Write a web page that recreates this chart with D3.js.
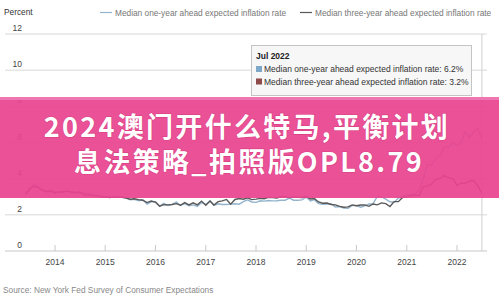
<!DOCTYPE html>
<html><head><meta charset="utf-8">
<script src="https://cdn.jsdelivr.net/npm/d3@7"></script>
<style>
html,body{margin:0;padding:0;background:#fff;}
svg{display:block;font-family:"Liberation Sans",Arial,sans-serif;}
</style></head><body>
<svg id="c" width="499" height="296"></svg>
<script>
const startMonth = "2013-06";
const oneYear = [3.09,3.37,3.69,3.56,3.39,3.29,3.36,
 3.26,3.23,3.28,3.31,3.22,3.20,3.25,3.19,3.17,3.14,3.07,3.00,
 3.00,2.99,2.97,3.03,2.98,2.95,2.83,2.86,2.78,2.83,2.59,2.72,
 2.73,2.47,2.63,2.51,2.58,2.70,2.52,2.62,2.50,2.55,2.47,2.68,
 2.57,2.77,2.52,2.61,2.57,2.57,2.59,2.61,2.59,2.73,2.83,2.71,
 2.69,2.78,2.76,2.79,2.77,2.78,2.81,2.81,2.93,2.81,2.81,2.83,
 2.98,2.77,2.84,2.62,2.58,2.59,2.61,2.43,2.46,2.38,2.36,2.52,
 2.51,2.42,2.50,2.60,2.62,3.02,3.00,2.87,2.72,2.70,2.93,3.02,
 3.11,3.13,3.15,3.36,3.98,4.80,4.76,5.16,5.31,5.74,5.74,5.96,
 5.84,6.00,6.58,6.30,6.58,6.78,6.20];
const threeYear = [3.14,3.46,3.58,3.50,3.35,3.28,3.30,
 3.21,3.28,3.26,3.31,3.26,3.24,3.27,3.11,3.10,3.06,3.06,3.00,
 3.00,2.96,2.99,2.99,2.97,2.93,2.86,2.89,2.84,2.81,2.68,2.76,
 2.70,2.48,2.56,2.55,2.57,2.62,2.53,2.68,2.55,2.66,2.55,2.76,
 2.53,2.77,2.54,2.73,2.77,2.85,2.59,2.85,2.90,2.86,2.94,2.84,
 2.87,2.91,2.89,2.97,2.95,2.93,3.00,3.00,2.95,2.99,2.97,2.96,
 3.02,2.88,2.90,2.71,2.64,2.65,2.57,2.55,2.47,2.42,2.44,2.55,
 2.50,2.54,2.55,2.47,2.60,2.55,2.66,2.62,2.46,2.73,2.73,2.96,
 3.00,3.06,3.09,3.07,3.56,3.59,3.71,3.97,4.00,4.19,4.05,4.00,
 3.63,3.76,3.73,3.87,3.90,3.60,3.20];
const yTicks = [0,2,4,6,8,10,12];
const xTickYears = [2014,2015,2016,2017,2018,2019,2020,2021,2022];
const seriesNames = ["Median one-year ahead expected inflation rate","Median three-year ahead expected inflation rate"];
const tooltipTitle = "Jul 2022";
const tooltipValues = ["6.2%","3.2%"];
const bannerLines = ["2024澳门开什么特马,平衡计划","息法策略_拍照版OPL8.79"];
const sourceText = "Source: New York Fed Survey of Consumer Expectations";

const svg = d3.select("#c");
const parse = d3.timeParse("%Y-%m");
const t0 = parse(startMonth);
const dates = oneYear.map((_,i)=>d3.timeMonth.offset(t0,i));

const x = d3.scaleTime().domain([new Date(2014,0,1),new Date(2022,0,1)]).range([55,457]);
const y = d3.scaleLinear().domain([0,12]).range([251,34]);

// gridlines
svg.append("g").selectAll("line").data(yTicks.filter(d=>d>0)).join("line")
  .attr("x1",5).attr("x2",487).attr("y1",d=>y(d)).attr("y2",d=>y(d))
  .attr("stroke","#d8d8d8").attr("stroke-width",1);
svg.append("line").attr("x1",5).attr("x2",487).attr("y1",y(0)).attr("y2",y(0))
  .attr("stroke","#c8c8c8").attr("stroke-width",1.2);
// y labels
svg.append("g").selectAll("text").data(yTicks).join("text")
  .attr("x",22).attr("y",d=>y(d)-3).attr("text-anchor","end")
  .attr("font-size",8.5).attr("fill","#444").text(d=>d);
// x ticks
const xt = svg.append("g");
xt.selectAll("line").data(xTickYears).join("line")
  .attr("x1",d=>x(new Date(d,0,1))).attr("x2",d=>x(new Date(d,0,1)))
  .attr("y1",y(0)-6).attr("y2",y(0)).attr("stroke","#c8c8c8");
xt.selectAll("text").data(xTickYears).join("text")
  .attr("x",d=>x(new Date(d,0,1))).attr("y",265).attr("text-anchor","middle")
  .attr("font-size",8.5).attr("fill","#444").text(d=>d);

// crosshair
const lastD = dates[dates.length-1];
svg.append("line").attr("x1",x(lastD)).attr("x2",x(lastD)).attr("y1",y(12)).attr("y2",y(0))
  .attr("stroke","#cfcfcf").attr("stroke-width",1);

// lines
const colors = ["#93b4cc","#5a5858"];
const line = d3.line().x((d,i)=>x(dates[i])).y(d=>y(d));
[oneYear,threeYear].forEach((s,k)=>{
  svg.append("path").attr("d",line(s)).attr("fill","none")
    .attr("stroke",colors[k]).attr("stroke-width",1.4);
});

// title & legend
svg.append("text").attr("x",4).attr("y",15).attr("font-size",8.3).attr("fill","#333").text("Percent");
const legX = [100,300];
seriesNames.forEach((n,k)=>{
  svg.append("line").attr("x1",legX[k]).attr("x2",legX[k]+12).attr("y1",12.5).attr("y2",12.5)
    .attr("stroke",colors[k]).attr("stroke-width",1.2);
  svg.append("text").attr("x",legX[k]+15).attr("y",15.5).attr("font-size",8.3).attr("fill","#777").text(n);
});

// tooltip
const tg = svg.append("g");
tg.append("rect").attr("x",251.5).attr("y",45.5).attr("width",220).attr("height",50)
  .attr("fill","#f7f7f7").attr("fill-opacity",0.95).attr("stroke","#c4c4c4");
tg.append("text").attr("x",256).attr("y",59).attr("font-size",8.5).attr("font-weight","bold").attr("fill","#222").text(tooltipTitle);
const sqColors = ["#7fa8c8","#8e4a4a"];
seriesNames.forEach((n,k)=>{
  const yy = 72 + k*12.5;
  tg.append("rect").attr("x",256).attr("y",yy-6).attr("width",6).attr("height",6).attr("fill",sqColors[k]);
  tg.append("text").attr("x",264).attr("y",yy).attr("font-size",8.5).attr("fill","#333")
    .text(n+": "+tooltipValues[k]);
});

// source
svg.append("text").attr("x",3).attr("y",293).attr("font-size",8.3).attr("fill","#888").text(sourceText);

// banner overlay
const bg = svg.append("g");
bg.append("rect").attr("x",0).attr("y",97).attr("width",499).attr("height",101)
  .attr("fill","#e8448f").attr("fill-opacity",0.93);
bg.append("rect").attr("x",0).attr("y",97).attr("width",499).attr("height",3)
  .attr("fill","#f07ab4").attr("fill-opacity",0.9);
bannerLines.forEach((t,i)=>{
  bg.append("text").attr("x",i===0?247:249).attr("y",i===0?137:172).attr("text-anchor","middle")
    .attr("font-family","'Noto Sans CJK SC','Noto Sans',sans-serif").attr("font-weight","bold")
    .attr("font-size",27).attr("letter-spacing",2.3).attr("fill","#fff")
    .style("paint-order","stroke").attr("stroke","#c8306f").attr("stroke-width",1.2).attr("stroke-opacity",0.5)
    .text(t);
});
</script>
</body></html>
